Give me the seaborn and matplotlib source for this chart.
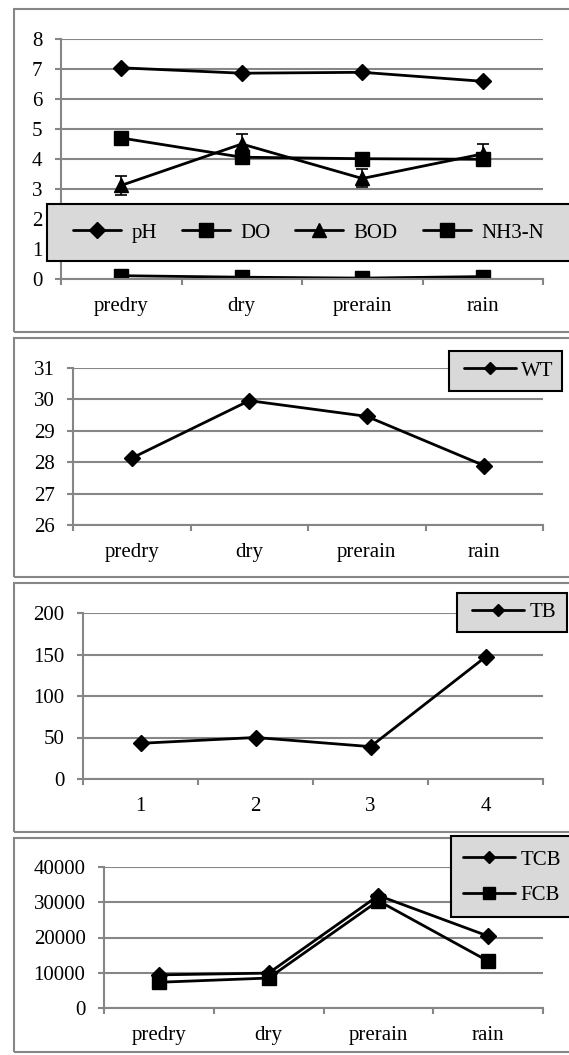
import matplotlib
matplotlib.use("Agg")
import matplotlib.pyplot as plt
from matplotlib.patches import Rectangle
import seaborn as sns

# values
seasons = ["predry", "dry", "prerain", "rain"]
ph = [7.04, 6.86, 6.89, 6.59]
do = [4.70, 4.06, 4.01, 3.99]
bod = [3.12, 4.50, 3.35, 4.17]
bod_err = [0.31, 0.32, 0.30, 0.32]
nh3n = [0.11, 0.06, 0.03, 0.08]
wt = [28.13, 29.96, 29.46, 27.89]
tb_labels = ["1", "2", "3", "4"]
tb = [43, 50, 39, 147]
tcb = [9400, 9900, 31900, 20400]
fcb = [7300, 8500, 30400, 13300]

sns.set_style("white")
plt.rcParams["font.family"] = ["Liberation Serif", "DejaVu Serif"]
plt.rcParams["text.color"] = "black"
plt.rcParams["xtick.labelcolor"] = "black"
plt.rcParams["ytick.labelcolor"] = "black"

W, H = 569, 1055
FS = 15
GRID = "#868686"
fig = plt.figure(figsize=(W / 100, H / 100), dpi=100)
xpos = list(range(4))


def px_axes(left, top, bottom, right=543):
    return fig.add_axes([left / W, 1 - bottom / H, (right - left) / W, (bottom - top) / H])


def px_rect(x0, y0, x1, y1, **kw):
    fig.patches.append(Rectangle((x0 / W, 1 - y1 / H), (x1 - x0) / W, (y1 - y0) / H,
                                 transform=fig.transFigure, **kw))


def style(ax, ylim, step, xlabels):
    ax.set_xlim(-0.5, 3.5)
    ax.set_ylim(*ylim)
    ax.set_yticks([ylim[0] + i * step for i in range(int(round((ylim[1] - ylim[0]) / step)) + 1)])
    ax.set_xticks(xpos)
    ax.set_xticklabels(xlabels)
    ax.set_xticks([-0.5, 0.5, 1.5, 2.5, 3.5], minor=True)
    ax.grid(axis="y", color=GRID, lw=1.5)
    ax.grid(axis="x", visible=False)
    for s in ["top", "right"]:
        ax.spines[s].set_visible(False)
    for s in ["left", "bottom"]:
        ax.spines[s].set_color(GRID)
        ax.spines[s].set_linewidth(1.5)
    ax.tick_params(axis="y", left=True, length=4.3, width=1.5, color=GRID, pad=9,
                   labelsize=FS, labelcolor="black")
    ax.tick_params(axis="x", which="major", bottom=True, length=0, pad=13, labelsize=FS,
                   labelcolor="black")
    ax.tick_params(axis="x", which="minor", bottom=True, length=4.3, width=1.5, color=GRID)
    ax.set_xlabel("")
    ax.set_ylabel("")


line_kw = dict(color="black", lw=2, markeredgecolor="black", markeredgewidth=1, legend=False)
leg_kw = dict(loc="center left", frameon=False, borderpad=0, borderaxespad=0, fontsize=FS,
              labelcolor="black")

# panel outlines
for top, bottom in [(9, 332), (338, 577), (583, 832), (838, 1052)]:
    px_rect(14, top, 620, bottom, fill=False, edgecolor=GRID, lw=1.5, zorder=1)

# panel 1: water quality
ax1 = px_axes(61, 39, 279)
sns.lineplot(x=xpos, y=ph, marker="D", markersize=8, label="pH", ax=ax1, **line_kw)
sns.lineplot(x=xpos, y=do, marker="s", markersize=10, label="DO", ax=ax1, **line_kw)
sns.lineplot(x=xpos, y=bod, marker="^", markersize=10, label="BOD", ax=ax1, **line_kw)
ax1.errorbar(xpos, bod, yerr=bod_err, fmt="none", ecolor="black", elinewidth=1.2,
             capsize=4.3, capthick=1.2)
sns.lineplot(x=xpos, y=nh3n, marker="s", markersize=10, label="NH3-N", ax=ax1, **line_kw)
style(ax1, (0, 8), 1, seasons)
px_rect(47, 204, 620, 261, facecolor="#d9d9d9", edgecolor="black", lw=1.5, zorder=2)
h, l = ax1.get_legend_handles_labels()
fig.legend(h, l, bbox_to_anchor=(73 / W, 1 - 233 / H), ncol=4, handlelength=2.3,
           handletextpad=0.5, columnspacing=1.2, **leg_kw)

# panel 2: water temperature
ax2 = px_axes(73, 368, 525)
sns.lineplot(x=xpos, y=wt, marker="D", markersize=8, label="WT", ax=ax2, **line_kw)
style(ax2, (26, 31), 1, seasons)
px_rect(449, 351, 562, 391, facecolor="#d9d9d9", edgecolor="black", lw=1.5, zorder=2)
h, l = ax2.get_legend_handles_labels()
fig.legend(h, l, bbox_to_anchor=(464 / W, 1 - 371 / H), handlelength=2.5,
           handletextpad=0.25, markerscale=0.8, **leg_kw)

# panel 3: total bacteria
ax3 = px_axes(83, 613, 779)
sns.lineplot(x=xpos, y=tb, marker="D", markersize=8, label="TB", ax=ax3, **line_kw)
style(ax3, (0, 200), 50, tb_labels)
px_rect(457, 593, 567, 632, facecolor="#d9d9d9", edgecolor="black", lw=1.5, zorder=2)
h, l = ax3.get_legend_handles_labels()
fig.legend(h, l, bbox_to_anchor=(472 / W, 1 - 612 / H), handlelength=2.5,
           handletextpad=0.25, markerscale=0.8, **leg_kw)

# panel 4: coliforms
ax4 = px_axes(104, 867, 1008)
sns.lineplot(x=xpos, y=tcb, marker="D", markersize=8, label="TCB", ax=ax4, **line_kw)
sns.lineplot(x=xpos, y=fcb, marker="s", markersize=10, label="FCB", ax=ax4, **line_kw)
style(ax4, (0, 40000), 10000, seasons)
px_rect(451, 836, 620, 917, facecolor="#d9d9d9", edgecolor="black", lw=1.5, zorder=2)
h, l = ax4.get_legend_handles_labels()
fig.legend(h, l, bbox_to_anchor=(463 / W, 1 - 877.5 / H), handlelength=2.5,
           handletextpad=0.25, labelspacing=0.75, markerscale=0.8, **leg_kw)

fig.savefig("out.png", dpi=100)
